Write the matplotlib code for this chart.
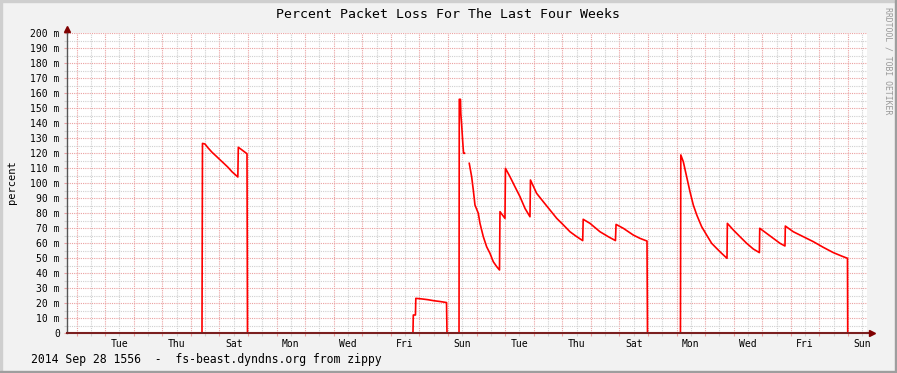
import numpy as np
import pandas as pd
import matplotlib
matplotlib.use("Agg")
import matplotlib.pyplot as plt
import matplotlib.dates as mdates
from matplotlib.patches import Rectangle
from matplotlib.ticker import MultipleLocator, FuncFormatter, NullFormatter

# graph window: last four weeks up to the render time
window_end = pd.Timestamp("2014-09-28 15:56")
window_start = window_end - pd.Timedelta(days=28)

# samples: hours since window start, loss in milli-percent (nan = unknown)
hours = [
    0, 113.4, 113.8, 115.9, 118.4, 121.8, 125.2, 128.5, 131.9, 135.2, 138.6,
    143.5, 143.9, 146.2, 148.7, 151.2, 151.6,
    290.6, 290.9, 292.7, 293.0, 298.2, 303.2, 308.3, 313.3, 318.8, 319.2,
    329.3, 329.5, 330.5, 330.8, 331.5, 332.4, 333.1, 333.9, 334.3,
    337.9, 339.9, 341.3, 342.7, 345.5, 346.9, 349.7, 352.5, 355.3, 358.1,
    361.0, 363.3, 363.7, 367.9, 368.3, 372.1, 376.3, 380.5, 384.7, 388.9,
    389.3, 394.5, 400.1, 405.7, 411.4, 417.0, 422.5, 428.2, 433.2, 433.6,
    439.3, 447.7, 454.7, 460.7, 461.2, 467.3, 475.7, 481.3, 487.2, 487.6,
    515.3, 515.6, 517.7, 520.5, 523.3, 526.1, 529.0, 533.1, 537.3, 541.5,
    545.7, 549.9, 554.4, 554.7, 559.7, 565.3, 570.9, 576.5, 581.6, 581.9,
    587.7, 593.3, 598.9, 603.1, 603.4, 610.1, 618.5, 626.9, 635.3, 643.7,
    650.7, 655.6, 655.8, 672,
]
loss_milli = [
    0, 0, 126.4, 126, 123.5, 120.5, 118, 115.5, 113, 110.5, 107.5,
    104, 123.8, 122.5, 121, 119.5, 0,
    0, 12, 12, 23.1, 22.7, 22.2, 21.5, 21, 20.3, 0,
    0, 155.8, 155.8, 146.4, 139, 127.6, 119.8, 119.8, np.nan,
    113.1, 104.2, 95.3, 85.3, 79.8, 73.1, 64.2, 57.5, 53.1, 47.5,
    44.2, 42, 80.9, 76.4, 109.8, 104.2, 97.5, 90.9, 83.1, 77.5,
    102, 93.1, 87.5, 82, 76.4, 72, 67.5, 64.2, 61.6, 75.8,
    73.1, 67.5, 64.2, 61.6, 72.4, 69.8, 65.3, 63.1, 61.3, 0,
    0, 118.7, 114.2, 104.2, 94.2, 85.3, 78.7, 70.9, 65.3, 59.8,
    56.4, 53.1, 49.8, 73.1, 68.7, 64.2, 59.8, 56, 53.6, 69.8,
    66.4, 63.1, 59.8, 58, 71.3, 67.5, 64.2, 60.9, 57.1, 53.6,
    51.3, 49.8, 0, 0,
]

title = "Percent Packet Loss For The Last Four Weeks"
footer = "2014 Sep 28 1556  -  fs-beast.dyndns.org from zippy"
watermark = "RRDTOOL / TOBI OETIKER"

times = window_start + pd.to_timedelta(hours, unit="h")
loss_pct = np.array(loss_milli) / 1000.0

mono = "DejaVu Sans Mono"
plt.rcParams["font.family"] = mono

W, H = 897, 373
fig = plt.figure(figsize=(W / 100, H / 100), dpi=100, facecolor="#F2F2F2")
ax = fig.add_axes([67 / W, (H - 333) / H, 800 / W, 300 / H])
ax.set_facecolor("white")

ax.plot(times, loss_pct, color="#FF0000", lw=1.2, zorder=2)

ax.set_xlim(window_start, window_end)
ax.set_ylim(0, 0.2)

red_grid = "#EBA0A0"
grey_grid = "#D0D0D0"
ax.xaxis.set_major_locator(mdates.DayLocator())
ax.xaxis.set_minor_locator(mdates.HourLocator(byhour=[12]))
ax.xaxis.set_major_formatter(NullFormatter())


def day_label(x, pos):
    d = mdates.num2date(x)
    return d.strftime("%a") if d.day % 2 == 0 else ""


ax.xaxis.set_minor_formatter(FuncFormatter(day_label))

ax.yaxis.set_major_locator(MultipleLocator(0.01))
ax.yaxis.set_minor_locator(MultipleLocator(0.005))


def milli(v, pos):
    m = int(round(v * 1000))
    return "0" if m == 0 else f"{m} m"


ax.yaxis.set_major_formatter(FuncFormatter(milli))

ax.set_axisbelow(True)
ax.grid(which="major", color=red_grid, ls=(0, (1, 1)), lw=0.8)
ax.grid(which="minor", color=grey_grid, ls=(0, (1, 1)), lw=0.8)

ax.tick_params(which="major", length=2.2, width=0.8, color=red_grid, direction="out")
ax.tick_params(which="minor", length=2.2, width=0.8, color=grey_grid, direction="out")
ax.tick_params(axis="y", which="major", labelsize=7, pad=3)
ax.tick_params(axis="x", which="minor", labelsize=7, pad=2)

for side in ("top", "right"):
    ax.spines[side].set_visible(False)
ax.spines["left"].set_color("#555555")
ax.spines["bottom"].set_color("#7a1f1f")
ax.spines["left"].set_linewidth(1.0)
ax.spines["bottom"].set_linewidth(1.5)
ax.spines["bottom"].set_zorder(3)

# axis arrows
ax.plot([0, 0], [1.0, 1.01], transform=ax.transAxes, color="#555555", lw=1, clip_on=False)
ax.plot(0, 1.015, marker="^", ms=4.5, color="#800000", transform=ax.transAxes, clip_on=False)
ax.plot([1.0, 1.004], [0, 0], transform=ax.transAxes, color="#7a1f1f", lw=1.5, clip_on=False)
ax.plot(1.006, 0, marker=">", ms=4.5, color="#800000", transform=ax.transAxes, clip_on=False)

# 3d frame shades
fig.patches.append(Rectangle((0, 1 - 2 / H), 1, 2 / H, color="#CFCFCF", transform=fig.transFigure))
fig.patches.append(Rectangle((0, 0), 2 / W, 1, color="#CFCFCF", transform=fig.transFigure))
fig.patches.append(Rectangle((0, 0), 1, 2 / H, color="#9E9E9E", transform=fig.transFigure))
fig.patches.append(Rectangle((1 - 2 / W, 0), 2 / W, 1, color="#9E9E9E", transform=fig.transFigure))

fig.text(447.5 / W, 1 - 14 / H, title, ha="center", va="center", fontsize=9.5)
fig.text(11.5 / W, 1 - 182 / H, "percent", rotation=90, ha="center", va="center", fontsize=7.5)
fig.text(30.5 / W, 1 - 359 / H, footer, ha="left", va="center", fontsize=8.3)
fig.text(887.5 / W, 1 - 60.5 / H, watermark, rotation=270, ha="center", va="center",
         fontsize=5.9, color="#999999")

fig.savefig("out.png", dpi=100, facecolor=fig.get_facecolor())
